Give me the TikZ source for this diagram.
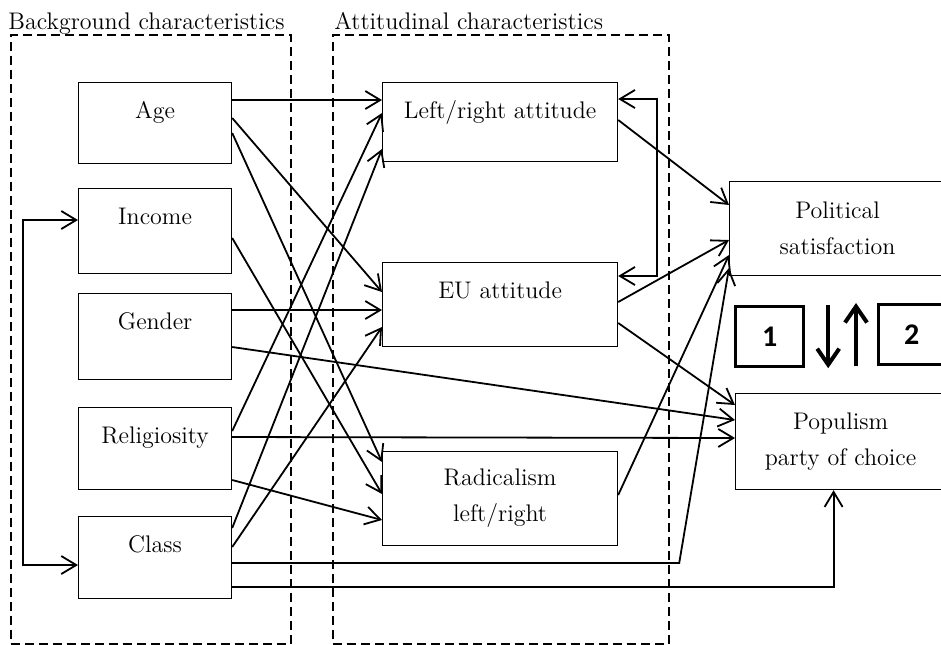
\documentclass[tikz,border=0pt]{standalone}
\usepackage{fontspec}
\newfontfamily\calib{Carlito}
\usepackage{tikz}
\usetikzlibrary{arrows.meta,positioning,calc}
\tikzstyle{factor}=[draw,line width=0.6pt,anchor=north west,align=center,inner sep=0pt,font=\fontsize{12}{18}\selectfont]
\tikzstyle{onerow}=[text height=18pt,text depth=#1]
\tikzstyle{group}=[draw,dash pattern=on 4.5pt off 2.5pt,line width=0.9pt,anchor=north west,inner sep=0pt]
\tikzstyle{grouplabel}=[anchor=base west,inner sep=0pt,font=\fontsize{12}{18}\selectfont]
\tikzstyle{model}=[draw,line width=1.6pt,anchor=north west,inner sep=0pt,font=\calib\bfseries\fontsize{15}{18}\selectfont]
\tikzstyle{link}=[line width=0.9pt,->]
\tikzstyle{bold}=[line width=2pt,-{Straight Barb[length=8pt,width=11pt]}]

\begin{document}
\begin{tikzpicture}[x=0.5pt,y=-0.5pt,>={Straight Barb[length=7.5pt,width=9pt]}]
\useasboundingbox (0,0) rectangle (941,644);
% groups
\draw (10, 34) node [group, minimum width=140pt, minimum height=304.5pt] (bg) {};
\draw (332, 34) node [group, minimum width=168pt, minimum height=304.5pt] (att) {};
\node [grouplabel] (bgname) at ([shift={(-2,-5)}]bg.north west) {Background characteristics};
\node [grouplabel] (attname) at ([shift={(2,-5)}]att.north west) {Attitudinal characteristics};
% background
\draw (78, 82) node [factor, onerow=22.5pt, minimum width=76.5pt] (age) {Age};
\draw (78, 188) node [factor, onerow=24.5pt, minimum width=76.5pt] (income) {Income};
\draw (78, 293) node [factor, onerow=25pt, minimum width=76.5pt] (gender) {Gender};
\draw (78, 407) node [factor, onerow=23pt, minimum width=76.5pt] (relig) {Religiosity};
\draw (78, 516) node [factor, onerow=23pt, minimum width=76.5pt] (class) {Class};
% attitudes
\draw (382, 82) node [factor, onerow=21.5pt, minimum width=117.5pt] (lrat) {Left/right attitude};
\draw (382, 262) node [factor, onerow=24pt, minimum width=117.5pt] (euat) {EU attitude};
\draw (382, 451) node [factor, minimum width=117.5pt, minimum height=47pt] (radic) {Radicalism\\left/right};
% outcomes
\draw (729, 181) node [factor, minimum width=108pt, minimum height=47pt] (polsat) {Political\\satisfaction};
\draw (735, 393) node [factor, minimum width=105pt, minimum height=48pt] (populism) {Populism\\party of choice};
\draw (734, 305) node [model, minimum width=34pt, minimum height=30pt] (one) {1};
\draw (877, 303) node [model, minimum width=33pt, minimum height=30pt] (two) {2};
\draw[bold] ([shift={(23,0)}]one.north east) -- ([shift={(23,0)}]one.south east);
\draw[bold] ([shift={(-21,0)}]two.south west) -- ([shift={(-21,0)}]two.north west);
% background -> attitudes
\draw[link] ([shift={(0,18)}]age.north east) -- ([shift={(0,18)}]lrat.north west);
\draw[link] ([shift={(0,36)}]age.north east) -- ([shift={(0,30)}]euat.north west);
\draw[link] ([shift={(0,51)}]age.north east) -- ([shift={(0,11)}]radic.north west);
\draw[link] ([shift={(0,50)}]income.north east) -- ([shift={(0,43)}]radic.north west);
\draw[link] ([shift={(0,17)}]gender.north east) -- ([shift={(0,48)}]euat.north west);
\draw[link] ([shift={(0,54)}]gender.north east) -- ([shift={(0,27)}]populism.north west);
\draw[link] ([shift={(0,24)}]relig.north east) -- ([shift={(0,31)}]lrat.north west);
\draw[link] ([shift={(0,30)}]relig.north east) -- ([shift={(0,45)}]populism.north west);
\draw[link] ([shift={(0,73)}]relig.north east) -- ([shift={(0,69)}]radic.north west);
\draw[link] ([shift={(0,12)}]class.north east) -- ([shift={(0,67)}]lrat.north west);
\draw[link] ([shift={(0,31)}]class.north east) -- ([shift={(0,65)}]euat.north west);
\draw[link] ([shift={(0,47)}]class.north east) -- ++(447,0) -- ([shift={(0,87)}]polsat.north west);
\draw[link] ([shift={(0,71)}]class.north east) -| ([shift={(-7,0)}]populism.south);
% attitudes -> outcomes
\draw[link] ([shift={(0,38)}]lrat.north east) -- ([shift={(0,24)}]polsat.north west);
\draw[link] ([shift={(0,40)}]euat.north east) -- ([shift={(0,59)}]polsat.north west);
\draw[link] ([shift={(0,61)}]euat.north east) -- ([shift={(0,12)}]populism.north west);
\draw[link] ([shift={(0,44)}]radic.north east) -- ([shift={(0,74)}]polsat.north west);
% correlations
\draw[link, <->] ([shift={(0,32)}]income.north west) -- ++(-55,0) |- ([shift={(0,49)}]class.north west);
\draw[link, <->] ([shift={(0,17)}]lrat.north east) -- ++(39,0) |- ([shift={(0,14)}]euat.north east);
\end{tikzpicture}
\end{document}
